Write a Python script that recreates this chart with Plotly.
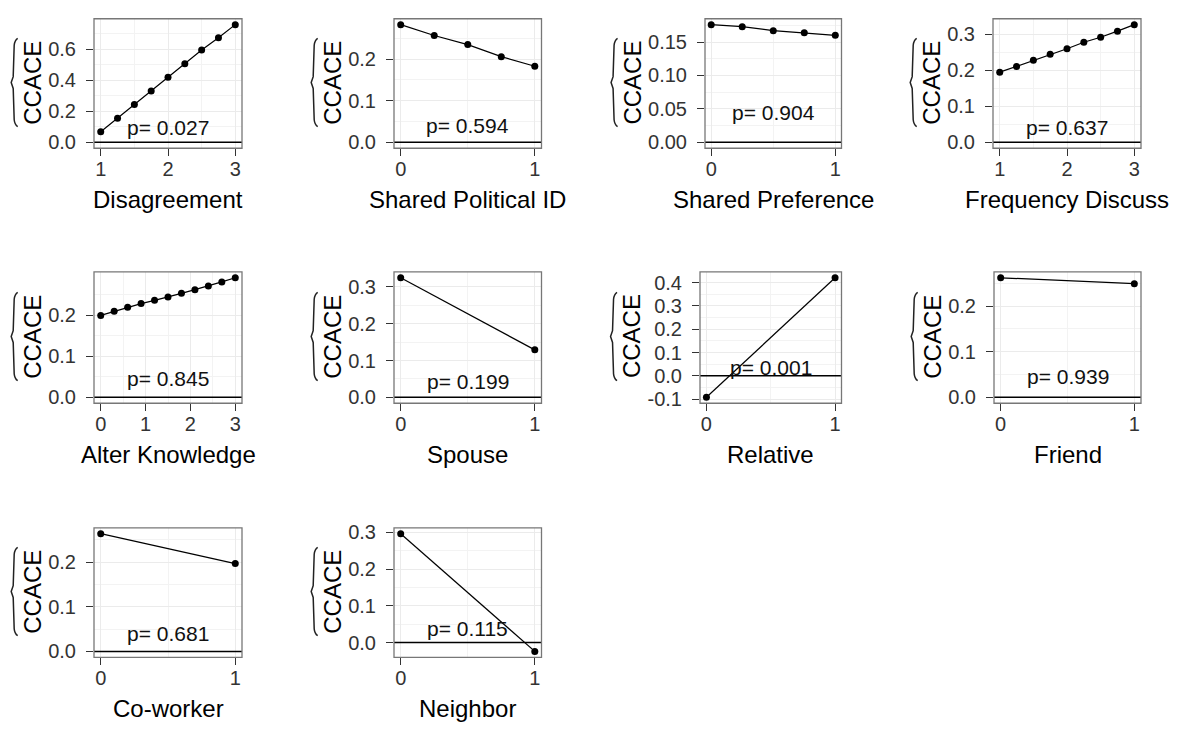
import plotly.graph_objects as go

# ---------------- data ----------------
disagreement_x = [1.0, 1.25, 1.5, 1.75, 2.0, 2.25, 2.5, 2.75, 3.0]
disagreement_y = [0.068, 0.156, 0.244, 0.331, 0.420, 0.508, 0.596, 0.675, 0.760]

shared_pid_x = [0.0, 0.25, 0.5, 0.75, 1.0]
shared_pid_y = [0.283, 0.257, 0.235, 0.206, 0.183]

shared_pref_x = [0.0, 0.25, 0.5, 0.75, 1.0]
shared_pref_y = [0.176, 0.173, 0.167, 0.164, 0.160]

freq_discuss_x = [1.0, 1.25, 1.5, 1.75, 2.0, 2.25, 2.5, 2.75, 3.0]
freq_discuss_y = [0.195, 0.211, 0.228, 0.245, 0.260, 0.278, 0.292, 0.309, 0.327]

alter_know_x = [0.0, 0.3, 0.6, 0.9, 1.2, 1.5, 1.8, 2.1, 2.4, 2.7, 3.0]
alter_know_y = [0.200, 0.210, 0.220, 0.229, 0.237, 0.245, 0.254, 0.263, 0.272, 0.282, 0.292]

spouse_x = [0, 1]
spouse_y = [0.325, 0.129]

relative_x = [0, 1]
relative_y = [-0.092, 0.421]

friend_x = [0, 1]
friend_y = [0.262, 0.249]

coworker_x = [0, 1]
coworker_y = [0.264, 0.197]

neighbor_x = [0, 1]
neighbor_y = [0.296, -0.024]

x_labels = ["Disagreement", "Shared Political ID", "Shared Preference", "Frequency Discuss",
            "Alter Knowledge", "Spouse", "Relative", "Friend", "Co-worker", "Neighbor"]
p_values = ["0.027", "0.594", "0.904", "0.637", "0.845", "0.199", "0.001", "0.939", "0.681", "0.115"]
p_label_y = [0.094, 0.04, 0.044, 0.04, 0.045, 0.042, 0.037, 0.045, 0.041, 0.038]

x_ticks = [[1, 2, 3], [0, 1], [0, 1], [1, 2, 3], [0, 1, 2, 3], [0, 1], [0, 1], [0, 1], [0, 1], [0, 1]]
y_ticks = [[0.0, 0.2, 0.4, 0.6], [0.0, 0.1, 0.2], [0.0, 0.05, 0.10, 0.15], [0.0, 0.1, 0.2, 0.3],
           [0.0, 0.1, 0.2], [0.0, 0.1, 0.2, 0.3], [-0.1, 0.0, 0.1, 0.2, 0.3, 0.4],
           [0.0, 0.1, 0.2], [0.0, 0.1, 0.2], [0.0, 0.1, 0.2, 0.3]]
y_tick_decimals = [1, 1, 2, 1, 1, 1, 1, 1, 1, 1]
hline_y = 0.0

series_x = [disagreement_x, shared_pid_x, shared_pref_x, freq_discuss_x, alter_know_x,
            spouse_x, relative_x, friend_x, coworker_x, neighbor_x]
series_y = [disagreement_y, shared_pid_y, shared_pref_y, freq_discuss_y, alter_know_y,
            spouse_y, relative_y, friend_y, coworker_y, neighbor_y]

# ---------------- layout (pixel boxes of panels) ----------------
W, H = 1180, 730
panel_boxes = [  # left, right, top, bottom in px
    (94, 242, 12, 144), (394, 541.5, 12, 144), (705, 841.5, 12, 144), (993, 1141, 12, 144),
    (94, 242, 270, 404), (394, 541.5, 270, 404), (700, 841.5, 270, 404), (994, 1141, 270, 404),
    (94, 242, 531, 663), (394, 541.5, 531, 663),
]

FONT = "Liberation Sans, Arial, sans-serif"
TICK_FS = 20
TITLE_FS = 24
P_FS = 21
CHAR_W = {"-": 0.333, ".": 0.278}


def text_w(s, fs):
    return sum(CHAR_W.get(c, 0.556) for c in s) * fs


def expand(lo, hi, f=0.05):
    d = (hi - lo) * f
    return [lo - d, hi + d]


def minor_vals(major, rng):
    step = major[1] - major[0]
    vals = []
    v = major[0] - step / 2
    while v <= rng[1] + 1e-9:
        if v >= rng[0] - 1e-9 and all(abs(v - m) > 1e-9 for m in major):
            vals.append(round(v, 6))
        v += step
    return vals


fig = go.Figure()
layout = dict(
    width=W, height=H, margin=dict(l=0, r=0, t=0, b=0),
    paper_bgcolor="white", plot_bgcolor="white", showlegend=False,
    font=dict(family=FONT, color="black"),
)
shapes = []
annotations = []

for i in range(10):
    k = "" if i == 0 else str(i + 1)
    xa, ya = "x" + k, "y" + k
    l, r, t, b = panel_boxes[i]
    xs, ys = series_x[i], series_y[i]
    xr = expand(min(xs), max(xs))
    yr = expand(min(min(ys), hline_y), max(max(ys), hline_y))
    dec = y_tick_decimals[i]
    yt_text = [f"{v:.{dec}f}" for v in y_ticks[i]]
    xt_text = [f"{v:g}" for v in x_ticks[i]]

    fig.add_trace(go.Scatter(
        x=xs, y=ys, xaxis=xa, yaxis=ya, mode="lines+markers",
        line=dict(color="black", width=1.2), marker=dict(color="black", size=7),
        hoverinfo="skip", cliponaxis=False,
    ))

    common = dict(
        showline=False, zeroline=False, ticks="outside", ticklen=7, tickwidth=1.2,
        tickcolor="#333333", showgrid=True, gridcolor="#EBEBEB", gridwidth=1.2,
        tickfont=dict(family=FONT, size=TICK_FS, color="#333333"),
        fixedrange=True,
    )
    layout["xaxis" + k] = dict(
        common, domain=[l / W, r / W], anchor=ya, range=xr,
        tickmode="array", tickvals=x_ticks[i], ticktext=xt_text, ticklabelstandoff=-4,
        minor=dict(tickvals=minor_vals(x_ticks[i], xr), showgrid=True,
                   gridcolor="#F3F3F3", gridwidth=1),
    )
    layout["yaxis" + k] = dict(
        common, domain=[1 - b / H, 1 - t / H], anchor=xa, range=yr,
        tickmode="array", tickvals=y_ticks[i], ticktext=yt_text, ticklabelstandoff=6,
        minor=dict(tickvals=minor_vals(y_ticks[i], yr), showgrid=True,
                   gridcolor="#F3F3F3", gridwidth=1),
    )

    # zero reference line
    shapes.append(dict(type="line", xref=xa + " domain", yref=ya, x0=0, x1=1,
                       y0=hline_y, y1=hline_y, line=dict(color="black", width=1.5)))
    # panel border
    shapes.append(dict(type="rect", xref=xa + " domain", yref=ya + " domain",
                       x0=0, x1=1, y0=0, y1=1, line=dict(color="#777777", width=1.3),
                       layer="above"))

    # p value label
    annotations.append(dict(
        x=(xr[0] + xr[1]) / 2, y=p_label_y[i], xref=xa, yref=ya, text="p= " + p_values[i],
        showarrow=False, xanchor="center", yanchor="middle",
        font=dict(family=FONT, size=P_FS, color="#111111"),
    ))
    # x title
    annotations.append(dict(
        x=(l + r) / 2 / W, y=1 - (b + 52) / H, xref="paper", yref="paper",
        text=x_labels[i], showarrow=False, xanchor="center", yanchor="middle",
        font=dict(family=FONT, size=TITLE_FS, color="black"),
    ))
    # y title (CCACE with wide hat)
    wlab = max(text_w(s, TICK_FS) for s in yt_text)
    cx = l - 34 - wlab
    cy = (t + b) / 2 - 1
    annotations.append(dict(
        x=cx / W, y=1 - cy / H, xref="paper", yref="paper", text="CCACE",
        textangle=-90, showarrow=False, xanchor="center", yanchor="middle",
        font=dict(family=FONT, size=TITLE_FS, color="black"),
    ))
    pts = [(cx - 14.5, cy - 45), (cx - 18, cy - 38), (cx - 19, cy - 6), (cx - 21, cy),
           (cx - 19, cy + 6), (cx - 18, cy + 38), (cx - 14.5, cy + 45)]
    path = "M {:.5f},{:.5f} Q {:.5f},{:.5f} {:.5f},{:.5f} L {:.5f},{:.5f} L {:.5f},{:.5f} L {:.5f},{:.5f} L {:.5f},{:.5f} Q {:.5f},{:.5f} {:.5f},{:.5f}".format(
        pts[0][0] / W, 1 - pts[0][1] / H,
        (cx - 17.5) / W, 1 - (cy - 43) / H, pts[1][0] / W, 1 - pts[1][1] / H,
        pts[2][0] / W, 1 - pts[2][1] / H,
        pts[3][0] / W, 1 - pts[3][1] / H,
        pts[4][0] / W, 1 - pts[4][1] / H,
        pts[5][0] / W, 1 - pts[5][1] / H,
        (cx - 17.5) / W, 1 - (cy + 43) / H, pts[6][0] / W, 1 - pts[6][1] / H,
    )
    shapes.append(dict(type="path", xref="paper", yref="paper", path=path,
                       line=dict(color="#222222", width=1.5)))

layout["shapes"] = shapes
layout["annotations"] = annotations
fig.update_layout(**layout)
fig.write_html("out.html")
